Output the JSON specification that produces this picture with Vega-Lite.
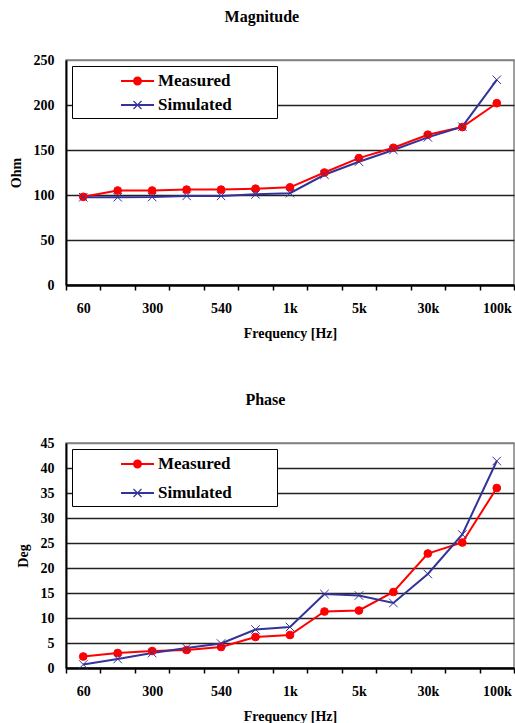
{
  "$schema": "https://vega.github.io/schema/vega-lite/v6.json",
  "padding": {"left": 8, "top": 8, "right": 0, "bottom": 0},
  "background": "white",
  "spacing": 50,
  "datasets": {
    "magnitude": [
      {"freq": "60", "series": "Measured", "value": 98},
      {"freq": "120", "series": "Measured", "value": 105},
      {"freq": "300", "series": "Measured", "value": 105},
      {"freq": "420", "series": "Measured", "value": 106},
      {"freq": "540", "series": "Measured", "value": 106},
      {"freq": "780", "series": "Measured", "value": 107},
      {"freq": "1k", "series": "Measured", "value": 108.5},
      {"freq": "2k", "series": "Measured", "value": 125},
      {"freq": "5k", "series": "Measured", "value": 141},
      {"freq": "10k", "series": "Measured", "value": 152.5},
      {"freq": "30k", "series": "Measured", "value": 167},
      {"freq": "50k", "series": "Measured", "value": 175.5},
      {"freq": "100k", "series": "Measured", "value": 202},
      {"freq": "60", "series": "Simulated", "value": 97.5},
      {"freq": "120", "series": "Simulated", "value": 97.5},
      {"freq": "300", "series": "Simulated", "value": 97.8},
      {"freq": "420", "series": "Simulated", "value": 99},
      {"freq": "540", "series": "Simulated", "value": 99},
      {"freq": "780", "series": "Simulated", "value": 100.7},
      {"freq": "1k", "series": "Simulated", "value": 102},
      {"freq": "2k", "series": "Simulated", "value": 122.5},
      {"freq": "5k", "series": "Simulated", "value": 137},
      {"freq": "10k", "series": "Simulated", "value": 150},
      {"freq": "30k", "series": "Simulated", "value": 164},
      {"freq": "50k", "series": "Simulated", "value": 176},
      {"freq": "100k", "series": "Simulated", "value": 228}
    ],
    "phase": [
      {"freq": "60", "series": "Measured", "value": 2.3},
      {"freq": "120", "series": "Measured", "value": 3.0},
      {"freq": "300", "series": "Measured", "value": 3.4},
      {"freq": "420", "series": "Measured", "value": 3.6},
      {"freq": "540", "series": "Measured", "value": 4.2},
      {"freq": "780", "series": "Measured", "value": 6.2},
      {"freq": "1k", "series": "Measured", "value": 6.6},
      {"freq": "2k", "series": "Measured", "value": 11.3},
      {"freq": "5k", "series": "Measured", "value": 11.5},
      {"freq": "10k", "series": "Measured", "value": 15.2},
      {"freq": "30k", "series": "Measured", "value": 22.9},
      {"freq": "50k", "series": "Measured", "value": 25.1},
      {"freq": "100k", "series": "Measured", "value": 36.0},
      {"freq": "60", "series": "Simulated", "value": 0.7},
      {"freq": "120", "series": "Simulated", "value": 1.8},
      {"freq": "300", "series": "Simulated", "value": 3.0},
      {"freq": "420", "series": "Simulated", "value": 4.0},
      {"freq": "540", "series": "Simulated", "value": 4.9},
      {"freq": "780", "series": "Simulated", "value": 7.7},
      {"freq": "1k", "series": "Simulated", "value": 8.2},
      {"freq": "2k", "series": "Simulated", "value": 14.8},
      {"freq": "5k", "series": "Simulated", "value": 14.5},
      {"freq": "10k", "series": "Simulated", "value": 13.0},
      {"freq": "30k", "series": "Simulated", "value": 18.8},
      {"freq": "50k", "series": "Simulated", "value": 26.7},
      {"freq": "100k", "series": "Simulated", "value": 41.4}
    ]
  },
  "config": {
    "view": {"stroke": "#808080", "strokeWidth": 1.5},
    "font": "Liberation Serif",
    "title": {"font": "Liberation Serif", "fontSize": 16, "fontWeight": "bold", "color": "black", "anchor": "middle", "frame": "bounds", "offset": 28},
    "axis": {
      "labelFont": "Liberation Serif", "labelFontSize": 14, "labelFontWeight": "bold", "labelColor": "black",
      "titleFont": "Liberation Serif", "titleFontSize": 14, "titleFontWeight": "bold", "titleColor": "black",
      "domainColor": "black", "domainWidth": 2
    },
    "legend": {
      "orient": "top-left", "offset": 6, "padding": 5,
      "fillColor": "white", "strokeColor": "black", "strokeWidth": 1,
      "labelFont": "Liberation Serif", "labelFontSize": 17, "labelFontWeight": "bold", "labelColor": "black",
      "labelLimit": 400, "labelOffset": 10.5, "symbolOffset": 50.5, "symbolSize": 400, "symbolStrokeWidth": 0,
      "rowPadding": 7,
      "title": null
    }
  },
  "resolve": {"scale": {"color": "independent"}, "legend": {"color": "independent"}},
  "vconcat": [
    {
      "title": "Magnitude",
      "data": {"name": "magnitude"},
      "width": 448,
      "height": 225,
      "encoding": {
        "x": {
          "field": "freq", "type": "ordinal", "bandPosition": 0.5,
          "sort": ["60", "120", "300", "420", "540", "780", "1k", "2k", "5k", "10k", "30k", "50k", "100k"],
          "scale": {"type": "band", "paddingInner": 0, "paddingOuter": 0},
          "axis": {
            "title": "Frequency [Hz]", "labelAngle": 0, "domain": true,
            "ticks": true, "tickBand": "extent", "tickSize": 5, "tickWidth": 1.5, "tickColor": "black",
            "labelPadding": 11, "titlePadding": 11, "grid": false,
            "labelExpr": "indexof(['60','300','540','1k','5k','30k','100k'], datum.value) >= 0 ? datum.value : ''"
          }
        },
        "y": {
          "field": "value", "type": "quantitative",
          "scale": {"domain": [0, 250], "nice": false},
          "axis": {
            "title": "Ohm", "values": [0, 50, 100, 150, 200, 250], "ticks": false, "labelPadding": 12, "titlePadding": 10,
            "grid": true,
            "gridWidth": {"condition": {"test": "datum.value === 0", "value": 2}, "value": 1.3},
            "gridColor": {"condition": [{"test": "datum.value === 250", "value": "#808080"}, {"test": "datum.value === 0", "value": "black"}], "value": "#222222"}
          }
        }
      },
      "layer": [
        {
          "mark": {"type": "line", "strokeWidth": 2},
          "encoding": {
            "color": {
              "field": "series", "type": "nominal",
              "scale": {"domain": ["Measured", "Simulated"], "range": ["#FF0000", "#333399"]},
              "legend": {
                "rowPadding": 6,
                "encode": {
                  "symbols": {
                    "update": {
                      "shape": {"signal": "datum.value === 'Measured' ? 'M-1.65,-0.1H1.65V0.1H-1.65Z M0.45,0A0.45,0.45,0,1,1,-0.45,0A0.45,0.45,0,1,1,0.45,0Z M13.45,0L13.45,0.01' : 'M-1.65,-0.1H1.65V0.1H-1.65Z M-0.358,-0.442L0.442,0.358L0.358,0.442L-0.442,-0.358Z M0.442,-0.358L-0.358,0.442L-0.442,0.358L0.358,-0.442Z M13.45,0L13.45,0.01'"},
                      "fill": {"signal": "datum.value === 'Measured' ? '#FF0000' : '#333399'"},
                      "stroke": {"value": "transparent"},
                      "strokeWidth": {"value": 0},
                      "opacity": {"value": 1}
                    }
                  }
                }
              }
            }
          }
        },
        {
          "mark": {"type": "point", "opacity": 1, "strokeWidth": 1},
          "encoding": {
            "shape": {"field": "series", "type": "nominal", "scale": {"domain": ["Measured", "Simulated"], "range": ["circle", "M-1,-1L1,1M1,-1L-1,1"]}, "legend": null},
            "fill": {"field": "series", "type": "nominal", "scale": {"domain": ["Measured", "Simulated"], "range": ["#FF0000", "transparent"]}, "legend": null},
            "stroke": {"field": "series", "type": "nominal", "scale": {"domain": ["Measured", "Simulated"], "range": ["#FF0000", "#333399"]}, "legend": null},
            "size": {"field": "series", "type": "nominal", "scale": {"domain": ["Measured", "Simulated"], "range": [60, 72]}, "legend": null}
          }
        }
      ]
    },
    {
      "title": "Phase",
      "data": {"name": "phase"},
      "width": 448,
      "height": 225,
      "encoding": {
        "x": {
          "field": "freq", "type": "ordinal", "bandPosition": 0.5,
          "sort": ["60", "120", "300", "420", "540", "780", "1k", "2k", "5k", "10k", "30k", "50k", "100k"],
          "scale": {"type": "band", "paddingInner": 0, "paddingOuter": 0},
          "axis": {
            "title": "Frequency [Hz]", "labelAngle": 0, "domain": true,
            "ticks": true, "tickBand": "extent", "tickSize": 5, "tickWidth": 1.5, "tickColor": "black",
            "labelPadding": 11, "titlePadding": 11, "grid": false,
            "labelExpr": "indexof(['60','300','540','1k','5k','30k','100k'], datum.value) >= 0 ? datum.value : ''"
          }
        },
        "y": {
          "field": "value", "type": "quantitative",
          "scale": {"domain": [0, 45], "nice": false},
          "axis": {
            "title": "Deg", "values": [0, 5, 10, 15, 20, 25, 30, 35, 40, 45], "ticks": false, "labelPadding": 12, "titlePadding": 10,
            "grid": true,
            "gridWidth": {"condition": {"test": "datum.value === 0", "value": 2}, "value": 1.3},
            "gridColor": {"condition": [{"test": "datum.value === 45", "value": "#808080"}, {"test": "datum.value === 0", "value": "black"}], "value": "#222222"}
          }
        }
      },
      "layer": [
        {
          "mark": {"type": "line", "strokeWidth": 2},
          "encoding": {
            "color": {
              "field": "series", "type": "nominal",
              "scale": {"domain": ["Measured", "Simulated"], "range": ["#FF0000", "#333399"]},
              "legend": {
                "rowPadding": 11,
                "encode": {
                  "symbols": {
                    "update": {
                      "shape": {"signal": "datum.value === 'Measured' ? 'M-1.65,-0.1H1.65V0.1H-1.65Z M0.45,0A0.45,0.45,0,1,1,-0.45,0A0.45,0.45,0,1,1,0.45,0Z M13.45,0L13.45,0.01' : 'M-1.65,-0.1H1.65V0.1H-1.65Z M-0.358,-0.442L0.442,0.358L0.358,0.442L-0.442,-0.358Z M0.442,-0.358L-0.358,0.442L-0.442,0.358L0.358,-0.442Z M13.45,0L13.45,0.01'"},
                      "fill": {"signal": "datum.value === 'Measured' ? '#FF0000' : '#333399'"},
                      "stroke": {"value": "transparent"},
                      "strokeWidth": {"value": 0},
                      "opacity": {"value": 1}
                    }
                  }
                }
              }
            }
          }
        },
        {
          "mark": {"type": "point", "opacity": 1, "strokeWidth": 1},
          "encoding": {
            "shape": {"field": "series", "type": "nominal", "scale": {"domain": ["Measured", "Simulated"], "range": ["circle", "M-1,-1L1,1M1,-1L-1,1"]}, "legend": null},
            "fill": {"field": "series", "type": "nominal", "scale": {"domain": ["Measured", "Simulated"], "range": ["#FF0000", "transparent"]}, "legend": null},
            "stroke": {"field": "series", "type": "nominal", "scale": {"domain": ["Measured", "Simulated"], "range": ["#FF0000", "#333399"]}, "legend": null},
            "size": {"field": "series", "type": "nominal", "scale": {"domain": ["Measured", "Simulated"], "range": [60, 72]}, "legend": null}
          }
        }
      ]
    }
  ]
}
